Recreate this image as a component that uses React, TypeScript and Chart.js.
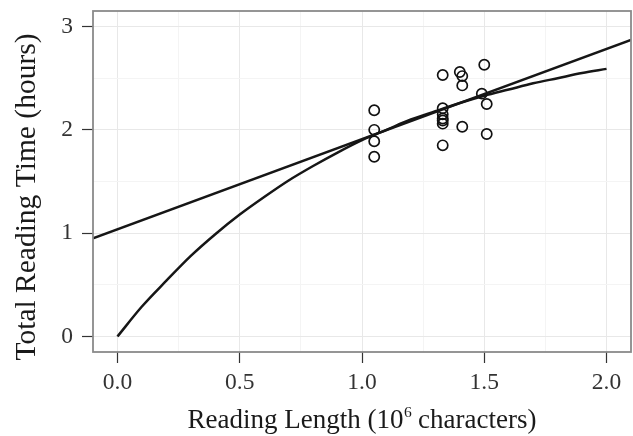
import React, { useEffect, useRef } from "react";
import { Chart, registerables } from "chart.js";

Chart.register(...registerables);

// Observed data (reading length in 10^6 characters, total reading time in hours)
const scatterX = [1.05, 1.05, 1.05, 1.05, 1.33, 1.33, 1.33, 1.33, 1.33, 1.33, 1.33, 1.4, 1.41, 1.41, 1.41, 1.5, 1.49, 1.51, 1.51];
const scatterY = [2.19, 2.0, 1.89, 1.74, 2.53, 2.21, 2.15, 2.11, 2.09, 2.06, 1.85, 2.56, 2.52, 2.43, 2.03, 2.63, 2.35, 2.25, 1.96];

// Curved fit
const curveX = [0, 0.1, 0.2, 0.3, 0.4, 0.5, 0.6, 0.7, 0.8, 0.9, 1.0, 1.1, 1.2, 1.3, 1.4, 1.5, 1.6, 1.7, 1.8, 1.9, 2.0];
const curveY = [0.0, 0.29, 0.54, 0.78, 0.99, 1.18, 1.35, 1.51, 1.65, 1.78, 1.9, 2.0, 2.1, 2.18, 2.26, 2.33, 2.39, 2.45, 2.5, 2.55, 2.59];

// Straight fit, end points
const lineX = [-0.1, 2.1];
const lineY = [0.95, 2.87];

const xMajorTicks = [0, 0.5, 1, 1.5, 2];
const xMinorTicks = [0.25, 0.75, 1.25, 1.75];
const yMajorTicks = [0, 1, 2, 3];
const yMinorTicks = [0.5, 1.5, 2.5];

const xLabelParts = ["Reading Length (10", "6", " characters)"];
const yLabel = "Total Reading Time (hours)";

const FONT = "'Liberation Serif', 'Times New Roman', serif";

const isIn = (arr: number[], v: number) => arr.some((a) => Math.abs(a - v) < 1e-9);

const boxPlugin = {
  id: "panelBox",
  afterDraw(chart: any) {
    const { ctx, chartArea } = chart;
    ctx.save();
    ctx.strokeStyle = "#8a8a8a";
    ctx.lineWidth = 1.8;
    ctx.strokeRect(chartArea.left, chartArea.top, chartArea.right - chartArea.left, chartArea.bottom - chartArea.top);

    // axis titles
    ctx.fillStyle = "#1a1a1a";
    ctx.textBaseline = "alphabetic";
    ctx.textAlign = "left";
    const mainFont = `27px ${FONT}`;
    const supFont = `15.5px ${FONT}`;
    ctx.font = mainFont;
    const w0 = ctx.measureText(xLabelParts[0]).width;
    const w2 = ctx.measureText(xLabelParts[2]).width;
    ctx.font = supFont;
    const w1 = ctx.measureText(xLabelParts[1]).width;
    const total = w0 + w1 + w2;
    const cx = (chartArea.left + chartArea.right) / 2;
    let x = cx - total / 2;
    const base = 428;
    ctx.font = mainFont;
    ctx.fillText(xLabelParts[0], x, base);
    x += w0;
    ctx.font = supFont;
    ctx.fillText(xLabelParts[1], x + 0.5, base - 11);
    x += w1;
    ctx.font = mainFont;
    ctx.fillText(xLabelParts[2], x, base);

    ctx.translate(35, 197);
    ctx.rotate(-Math.PI / 2);
    ctx.font = `29.5px ${FONT}`;
    ctx.textAlign = "center";
    ctx.fillText(yLabel, 0, 0);
    ctx.restore();
  },
};

export default function App() {
  const ref = useRef<HTMLCanvasElement | null>(null);

  useEffect(() => {
    if (!ref.current) return;
    const chart = new Chart(ref.current, {
      type: "scatter",
      data: {
        datasets: [
          {
            label: "linear",
            data: lineX.map((x, i) => ({ x, y: lineY[i] })),
            showLine: true,
            borderColor: "#161616",
            borderWidth: 2.5,
            pointRadius: 0,
            fill: false,
          },
          {
            label: "curve",
            data: curveX.map((x, i) => ({ x, y: curveY[i] })),
            showLine: true,
            borderColor: "#161616",
            borderWidth: 2.5,
            pointRadius: 0,
            cubicInterpolationMode: "monotone",
            fill: false,
          },
          {
            label: "observed",
            data: scatterX.map((x, i) => ({ x, y: scatterY[i] })),
            pointRadius: 5.1,
            pointBorderWidth: 1.7,
            borderColor: "#111",
            backgroundColor: "rgba(0,0,0,0)",
          },
        ],
      } as any,
      options: {
        animation: false,
        responsive: false,
        devicePixelRatio: 1,
        layout: { autoPadding: false, padding: { top: 11, right: 2, left: 0, bottom: 0 } },
        plugins: { legend: { display: false }, tooltip: { enabled: false } },
        scales: {
          x: {
            type: "linear",
            min: -0.1,
            max: 2.1,
            afterBuildTicks: (scale: any) => {
              scale.ticks = [...xMajorTicks, ...xMinorTicks].sort((a, b) => a - b).map((v) => ({ value: v }));
            },
            afterFit: (scale: any) => {
              scale.height = 84;
              scale.paddingLeft = 0;
              scale.paddingRight = 0;
            },
            border: { display: false },
            grid: {
              color: (c: any) => (isIn(xMajorTicks, c.tick?.value) ? "#e8e8e8" : "#f4f4f4"),
              lineWidth: 1,
              tickLength: 11,
              tickColor: (c: any) => (isIn(xMajorTicks, c.tick?.value) ? "#333" : "rgba(0,0,0,0)"),
              tickWidth: 1.2,
            },
            ticks: {
              padding: 6,
              color: "#333",
              font: { family: FONT, size: 23.5 },
              maxRotation: 0,
              autoSkip: false,
              callback: (v: any) => (isIn(xMajorTicks, Number(v)) ? Number(v).toFixed(1) : ""),
            },
            title: { display: false },
          },
          y: {
            type: "linear",
            min: -0.15,
            max: 3.15,
            afterBuildTicks: (scale: any) => {
              scale.ticks = [...yMajorTicks, ...yMinorTicks].sort((a, b) => a - b).map((v) => ({ value: v }));
            },
            afterFit: (scale: any) => {
              scale.width = 93;
              scale.paddingTop = 0;
              scale.paddingBottom = 0;
            },
            border: { display: false },
            grid: {
              color: (c: any) => (isIn(yMajorTicks, c.tick?.value) ? "#e8e8e8" : "#f4f4f4"),
              lineWidth: 1,
              tickLength: 11,
              tickColor: (c: any) => (isIn(yMajorTicks, c.tick?.value) ? "#333" : "rgba(0,0,0,0)"),
              tickWidth: 1.2,
            },
            ticks: {
              padding: 9,
              color: "#333",
              font: { family: FONT, size: 23.5 },
              autoSkip: false,
              callback: (v: any) => (isIn(yMajorTicks, Number(v)) ? String(Number(v)) : ""),
            },
            title: { display: false },
          },
        },
      } as any,
      plugins: [boxPlugin],
    });
    return () => chart.destroy();
  }, []);

  return (
    <div style={{ position: "fixed", left: 0, top: 0, width: 633, height: 436, background: "#fff" }}>
      <canvas ref={ref} width={633} height={436} style={{ display: "block" }} />
    </div>
  );
}
